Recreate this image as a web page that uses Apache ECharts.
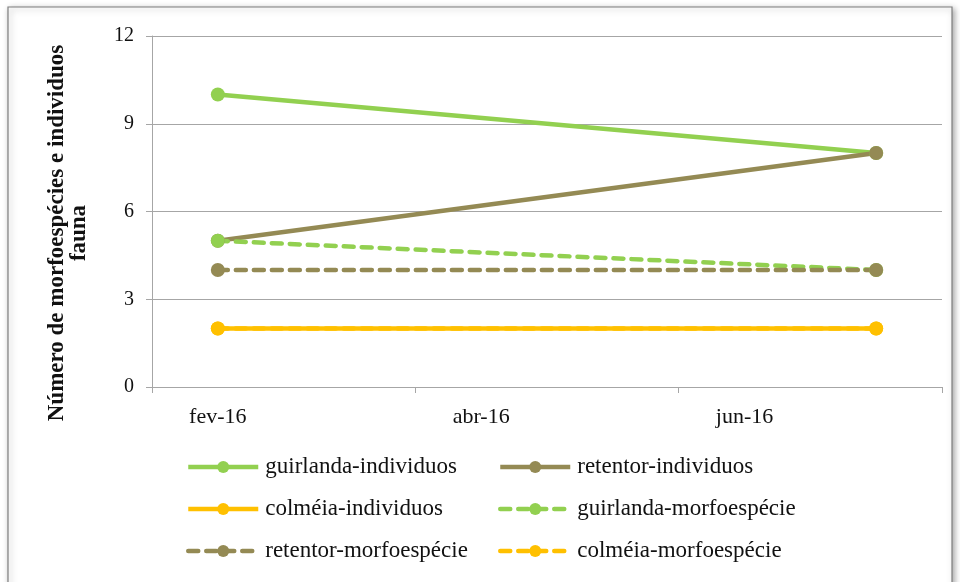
<!DOCTYPE html>
<html>
<head>
<meta charset="utf-8">
<script src="https://cdn.jsdelivr.net/npm/echarts@6/dist/echarts.min.js"></script>
<style>
  html, body { margin: 0; padding: 0; background: #fff; }
  #chart { width: 960px; height: 582px; }
</style>
</head>
<body>
<div id="chart"></div>
<script>
// Monthly slots on the x axis; samples were taken only in fev-16 and jul-16
const months = ['fev-16', 'mar-16', 'abr-16', 'mai-16', 'jun-16', 'jul-16'];
const yTicks = [0, 3, 6, 9, 12];

const guirlandaIndividuos   = [10, null, null, null, null, 8];
const retentorIndividuos    = [5,  null, null, null, null, 8];
const colmeiaIndividuos     = [2,  null, null, null, null, 2];
const guirlandaMorfoespecie = [5,  null, null, null, null, 4];
const retentorMorfoespecie  = [4,  null, null, null, null, 4];
const colmeiaMorfoespecie   = [2,  null, null, null, null, 2];

// Legend layout: two columns, three rows
const legendColumns = [
  ['guirlanda-individuos', 'colméia-individuos', 'retentor-morfoespécie'],
  ['retentor-individuos', 'guirlanda-morfoespécie', 'colméia-morfoespécie']
];

const GREEN = '#92D050', OLIVE = '#948A54', GOLD = '#FFC000';
const FONT = '"Liberation Serif", "DejaVu Serif", serif';
const DASH = [10, 8];

function line(name, data, color, dashed) {
  return {
    name: name,
    type: 'line',
    data: data,
    connectNulls: true,
    symbol: 'circle',
    symbolSize: 14,
    showSymbol: true,
    itemStyle: { color: color },
    lineStyle: {
      color: color,
      width: 4.5,
      type: dashed ? DASH : 'solid',
      cap: dashed ? 'round' : 'butt'
    },
    emphasis: { disabled: true }
  };
}

const legends = [];
const colLeft = [186, 498];
const rowTop = [454, 496, 538];
legendColumns.forEach(function (col, c) {
  col.forEach(function (name, r) {
    legends.push({
      left: colLeft[c],
      top: rowTop[r],
      padding: 0,
      itemWidth: 70,
      itemHeight: 15,
      selectedMode: false,
      lineStyle: { width: 4.5 },
      textStyle: { fontFamily: FONT, fontSize: 23, lineHeight: 26, color: '#111', padding: [0, 0, 0, 2] },
      data: [name]
    });
  });
});

const chart = echarts.init(document.getElementById('chart'), null, { renderer: 'canvas' });

chart.setOption({
  animation: false,
  backgroundColor: '#fff',
  graphic: [
    {
      type: 'rect',
      shape: { x: 8, y: 7, width: 944, height: 590 },
      style: { fill: '#fff', stroke: '#7f7f7f', lineWidth: 1.2, shadowBlur: 6, shadowColor: 'rgba(0,0,0,0.35)', shadowOffsetX: 2, shadowOffsetY: 2 },
      z: -10
    },
    {
      type: 'text',
      x: 68,
      y: 233,
      rotation: Math.PI / 2,
      style: {
        text: 'Número de morfoespécies e individuos\nfauna',
        fontFamily: FONT,
        fontSize: 23,
        fontWeight: 'bold',
        lineHeight: 22,
        fill: '#111',
        align: 'center',
        verticalAlign: 'middle'
      }
    }
  ],
  grid: { left: 152, right: 18, top: 36, bottom: 195, containLabel: false },
  xAxis: {
    type: 'category',
    data: months,
    boundaryGap: true,
    axisLine: { show: true, lineStyle: { color: '#A6A6A6', width: 1 } },
    axisTick: { show: true, interval: 1, length: 6, lineStyle: { color: '#A6A6A6' } },
    axisLabel: { interval: 1, margin: 19, fontFamily: FONT, fontSize: 22, color: '#111' },
    splitLine: { show: false }
  },
  yAxis: {
    type: 'value',
    min: yTicks[0],
    max: yTicks[yTicks.length - 1],
    interval: 3,
    axisLine: { show: true, lineStyle: { color: '#A6A6A6', width: 1 } },
    axisTick: { show: true, length: 6, lineStyle: { color: '#A6A6A6' } },
    axisLabel: { margin: 18, fontFamily: FONT, fontSize: 20, color: '#111' },
    splitLine: { show: true, lineStyle: { color: '#A6A6A6', width: 1 } }
  },
  legend: legends,
  series: [
    line('guirlanda-individuos', guirlandaIndividuos, GREEN, false),
    line('retentor-individuos', retentorIndividuos, OLIVE, false),
    line('colméia-morfoespécie', colmeiaMorfoespecie, GOLD, true),
    line('colméia-individuos', colmeiaIndividuos, GOLD, false),
    line('guirlanda-morfoespécie', guirlandaMorfoespecie, GREEN, true),
    line('retentor-morfoespécie', retentorMorfoespecie, OLIVE, true)
  ]
});
</script>
</body>
</html>
